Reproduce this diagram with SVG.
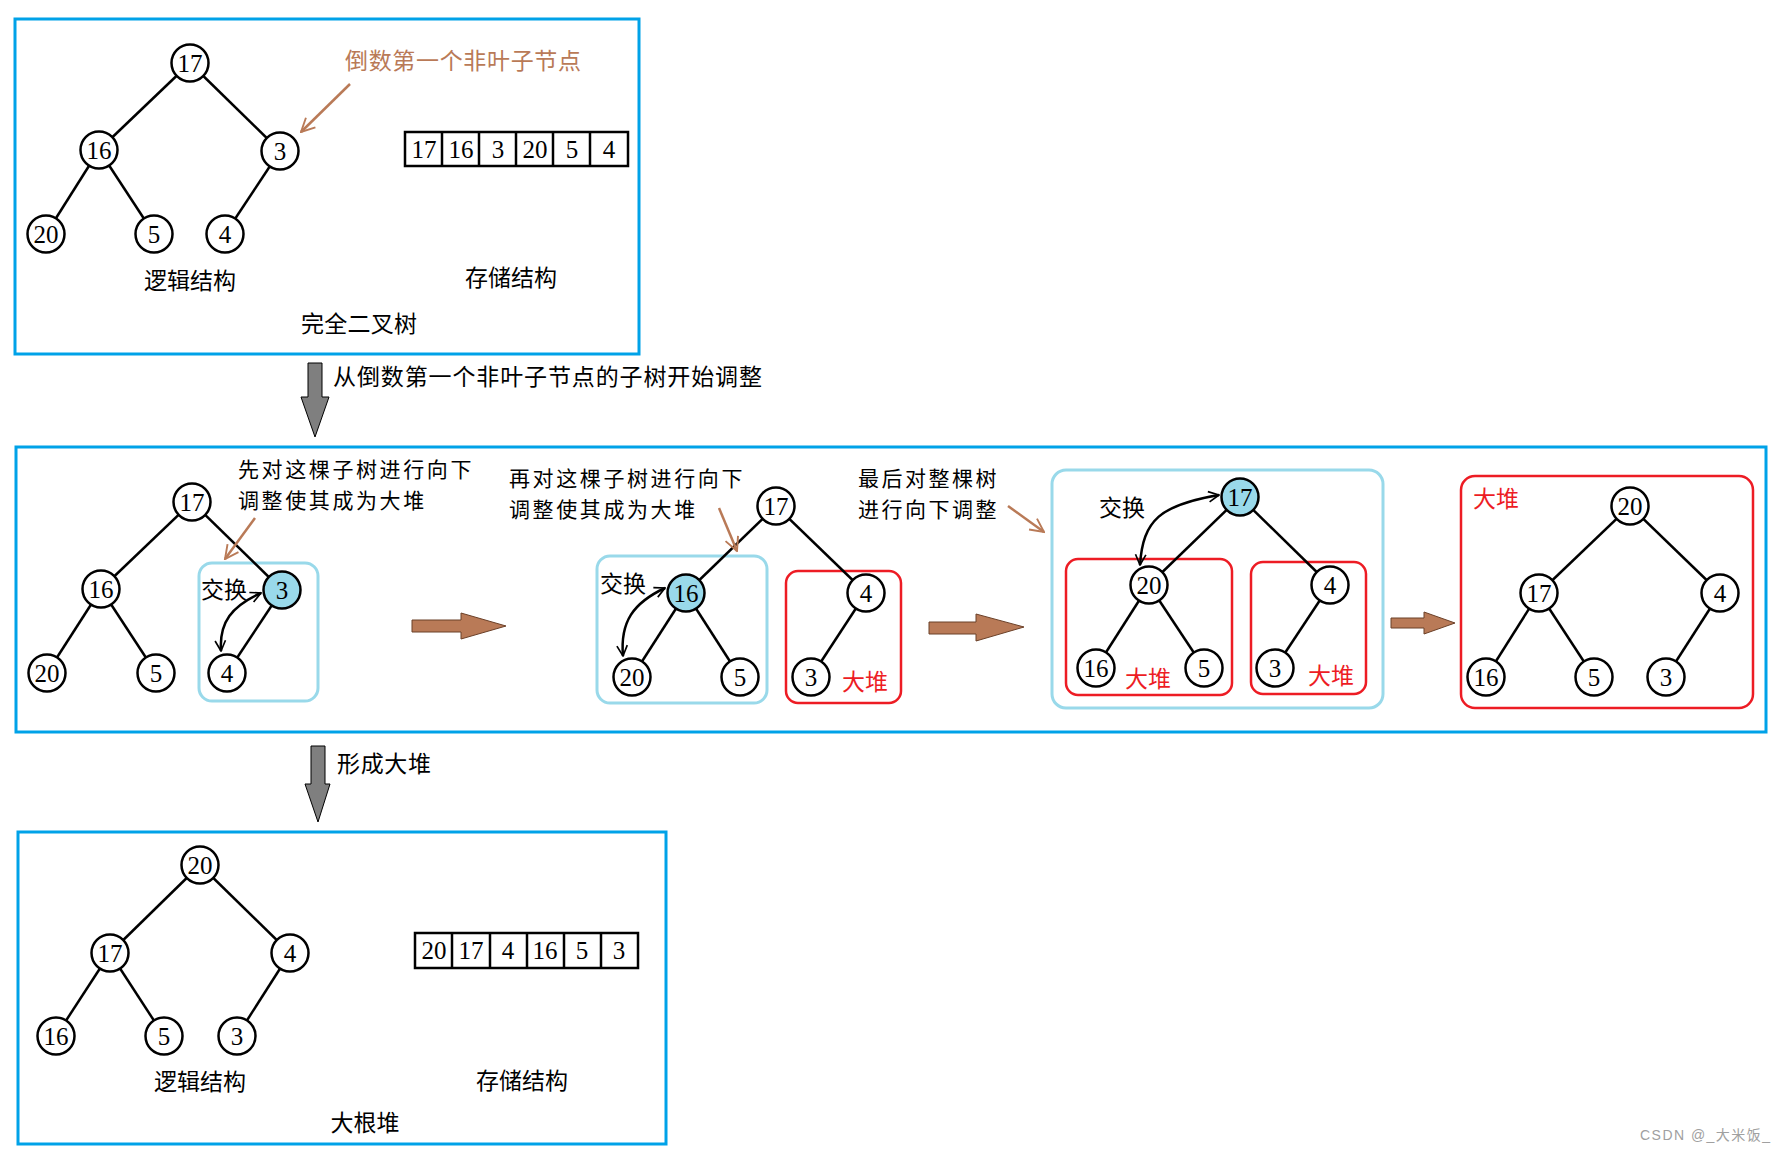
<svg xmlns="http://www.w3.org/2000/svg" width="1786" height="1153" viewBox="0 0 1786 1153">
<defs>
<style>
.frame{fill:none;stroke:#00a2e8;stroke-width:3}
.lb{fill:none;stroke:#99d9ea;stroke-width:3}
.rd{fill:none;stroke:#ed1c24;stroke-width:2.5}
.edge{stroke:#000;stroke-width:2.5;fill:none}
.nd circle{fill:#fff;stroke:#000;stroke-width:2.5}
.nd.hl circle{fill:#99d9ea}
.nd text,.num{font-family:'Liberation Serif',serif;font-size:25px;text-anchor:middle;dominant-baseline:central;fill:#000}
.cn{font-family:'Noto Sans CJK SC',sans-serif;font-size:23px;fill:#000;dominant-baseline:central}
.cn2{font-family:'Noto Sans CJK SC',sans-serif;font-size:21px;fill:#000;dominant-baseline:central}
.mid{text-anchor:middle}
.red{fill:#ed1c24}
.brn{fill:#b97a57}
.cell{fill:#fff;stroke:#000;stroke-width:2.5}
.ann{stroke:#b97a57;stroke-width:2.5;fill:none;marker-end:url(#ah)}
.swap{stroke:#000;stroke-width:2.5;fill:none;marker-start:url(#sh);marker-end:url(#sh)}
.barrow{fill:#b97a57;stroke:#6b4028;stroke-width:1}
.garrow{fill:#7f7f7f;stroke:#000;stroke-width:1}
</style>
<marker id="ah" viewBox="0 0 12 12" refX="11" refY="6" markerWidth="6.5" markerHeight="6.5" orient="auto" markerUnits="strokeWidth">
<path d="M1,1 L11,6 L1,11" fill="none" stroke="#b97a57" stroke-width="1.4"/>
</marker>
<marker id="sh" viewBox="0 0 12 12" refX="11" refY="6" markerWidth="5" markerHeight="5" orient="auto-start-reverse" markerUnits="strokeWidth">
<path d="M1,1 L11,6 L1,11" fill="none" stroke="#000" stroke-width="1.6"/>
</marker>
</defs>
<rect width="1786" height="1153" fill="#fff"/>

<!-- Frames -->
<g id="frames">
<rect class="frame" x="15" y="19" width="624" height="335"/>
<rect class="frame" x="16" y="447" width="1750" height="285"/>
<rect class="frame" x="18" y="832" width="648" height="312"/>
<rect class="lb" x="199" y="563" width="119" height="138" rx="13"/>
<rect class="lb" x="597" y="556" width="170" height="147" rx="13"/>
<rect class="rd" x="786" y="571" width="115" height="132" rx="12"/>
<rect class="lb" x="1052" y="470" width="331" height="238" rx="14"/>
<rect class="rd" x="1066" y="559" width="166" height="136" rx="12"/>
<rect class="rd" x="1251" y="562" width="115" height="132" rx="12"/>
<rect class="rd" x="1461" y="476" width="292" height="232" rx="14"/>
</g>

<!-- Connectors -->
<g id="connectors">
<line class="edge" x1="190" y1="63" x2="99" y2="150"/>
<line class="edge" x1="190" y1="63" x2="280" y2="151"/>
<line class="edge" x1="99" y1="150" x2="46" y2="234"/>
<line class="edge" x1="99" y1="150" x2="154" y2="234"/>
<line class="edge" x1="280" y1="151" x2="225" y2="234"/>

<line class="edge" x1="192" y1="502" x2="101" y2="589"/>
<line class="edge" x1="192" y1="502" x2="282" y2="590"/>
<line class="edge" x1="101" y1="589" x2="47" y2="673"/>
<line class="edge" x1="101" y1="589" x2="156" y2="673"/>
<line class="edge" x1="282" y1="590" x2="227" y2="673"/>

<line class="edge" x1="776" y1="506" x2="686" y2="593"/>
<line class="edge" x1="776" y1="506" x2="866" y2="593"/>
<line class="edge" x1="686" y1="593" x2="632" y2="677"/>
<line class="edge" x1="686" y1="593" x2="740" y2="677"/>
<line class="edge" x1="866" y1="593" x2="811" y2="677"/>

<line class="edge" x1="1240" y1="497" x2="1149" y2="585"/>
<line class="edge" x1="1240" y1="497" x2="1330" y2="585"/>
<line class="edge" x1="1149" y1="585" x2="1096" y2="668"/>
<line class="edge" x1="1149" y1="585" x2="1204" y2="668"/>
<line class="edge" x1="1330" y1="585" x2="1275" y2="668"/>

<line class="edge" x1="1630" y1="506" x2="1539" y2="593"/>
<line class="edge" x1="1630" y1="506" x2="1720" y2="593"/>
<line class="edge" x1="1539" y1="593" x2="1486" y2="677"/>
<line class="edge" x1="1539" y1="593" x2="1594" y2="677"/>
<line class="edge" x1="1720" y1="593" x2="1666" y2="677"/>

<line class="edge" x1="200" y1="865" x2="110" y2="953"/>
<line class="edge" x1="200" y1="865" x2="290" y2="953"/>
<line class="edge" x1="110" y1="953" x2="56" y2="1036"/>
<line class="edge" x1="110" y1="953" x2="164" y2="1036"/>
<line class="edge" x1="290" y1="953" x2="237" y2="1036"/>

<!-- swap arrows -->
<path class="swap" d="M221,651 C219,622 232,606 261,593"/>
<path class="swap" d="M623,656 C620,622 633,603 665,588"/>
<path class="swap" d="M1140,565 C1143,520 1160,505 1219,495"/>

<!-- annotation arrows -->
<line class="ann" x1="350" y1="84" x2="301" y2="132"/>
<line class="ann" x1="255" y1="518" x2="225" y2="559"/>
<line class="ann" x1="719" y1="508" x2="737" y2="551"/>
<line class="ann" x1="1008" y1="506" x2="1044" y2="532"/>

<!-- block arrows -->
<polygon class="barrow" points="412,620 461,620 461,613 506,626 461,639 461,632 412,632"/>
<polygon class="barrow" points="929,622 976,622 976,614 1024,627 976,641 976,634 929,634"/>
<polygon class="barrow" points="1391,618 1424,618 1424,612 1455,623 1424,634 1424,628 1391,628"/>
<polygon class="garrow" points="308,363 322,363 322,397 329,397 315,437 301,397 308,397"/>
<polygon class="garrow" points="311,746 325,746 325,784 330,784 318,822 305,784 311,784"/>
</g>

<!-- Nodes -->
<g id="tree1">
<g class="nd" id="t1n17"><circle cx="190" cy="63" r="18.5"/><text x="190" y="63">17</text></g>
<g class="nd" id="t1n16"><circle cx="99" cy="150" r="18.5"/><text x="99" y="150">16</text></g>
<g class="nd" id="t1n3"><circle cx="280" cy="151" r="18.5"/><text x="280" y="151">3</text></g>
<g class="nd" id="t1n20"><circle cx="46" cy="234" r="18.5"/><text x="46" y="234">20</text></g>
<g class="nd" id="t1n5"><circle cx="154" cy="234" r="18.5"/><text x="154" y="234">5</text></g>
<g class="nd" id="t1n4"><circle cx="225" cy="234" r="18.5"/><text x="225" y="234">4</text></g>
</g>
<g id="array1">
<rect class="cell" x="405" y="132" width="223" height="34"/>
<line class="edge" x1="442" y1="132" x2="442" y2="166"/>
<line class="edge" x1="479" y1="132" x2="479" y2="166"/>
<line class="edge" x1="516" y1="132" x2="516" y2="166"/>
<line class="edge" x1="553" y1="132" x2="553" y2="166"/>
<line class="edge" x1="590" y1="132" x2="590" y2="166"/>
<text class="num" x="424" y="149">17</text>
<text class="num" x="461" y="149">16</text>
<text class="num" x="498" y="149">3</text>
<text class="num" x="535" y="149">20</text>
<text class="num" x="572" y="149">5</text>
<text class="num" x="609" y="149">4</text>
</g>

<g id="tree2">
<g class="nd"><circle cx="192" cy="502" r="18.5"/><text x="192" y="502">17</text></g>
<g class="nd"><circle cx="101" cy="589" r="18.5"/><text x="101" y="589">16</text></g>
<g class="nd hl"><circle cx="282" cy="590" r="18.5"/><text x="282" y="590">3</text></g>
<g class="nd"><circle cx="47" cy="673" r="18.5"/><text x="47" y="673">20</text></g>
<g class="nd"><circle cx="156" cy="673" r="18.5"/><text x="156" y="673">5</text></g>
<g class="nd"><circle cx="227" cy="673" r="18.5"/><text x="227" y="673">4</text></g>
</g>
<g id="tree3">
<g class="nd"><circle cx="776" cy="506" r="18.5"/><text x="776" y="506">17</text></g>
<g class="nd hl"><circle cx="686" cy="593" r="18.5"/><text x="686" y="593">16</text></g>
<g class="nd"><circle cx="866" cy="593" r="18.5"/><text x="866" y="593">4</text></g>
<g class="nd"><circle cx="632" cy="677" r="18.5"/><text x="632" y="677">20</text></g>
<g class="nd"><circle cx="740" cy="677" r="18.5"/><text x="740" y="677">5</text></g>
<g class="nd"><circle cx="811" cy="677" r="18.5"/><text x="811" y="677">3</text></g>
</g>
<g id="tree4">
<g class="nd hl"><circle cx="1240" cy="497" r="18.5"/><text x="1240" y="497">17</text></g>
<g class="nd"><circle cx="1149" cy="585" r="18.5"/><text x="1149" y="585">20</text></g>
<g class="nd"><circle cx="1330" cy="585" r="18.5"/><text x="1330" y="585">4</text></g>
<g class="nd"><circle cx="1096" cy="668" r="18.5"/><text x="1096" y="668">16</text></g>
<g class="nd"><circle cx="1204" cy="668" r="18.5"/><text x="1204" y="668">5</text></g>
<g class="nd"><circle cx="1275" cy="668" r="18.5"/><text x="1275" y="668">3</text></g>
</g>
<g id="tree5">
<g class="nd"><circle cx="1630" cy="506" r="18.5"/><text x="1630" y="506">20</text></g>
<g class="nd"><circle cx="1539" cy="593" r="18.5"/><text x="1539" y="593">17</text></g>
<g class="nd"><circle cx="1720" cy="593" r="18.5"/><text x="1720" y="593">4</text></g>
<g class="nd"><circle cx="1486" cy="677" r="18.5"/><text x="1486" y="677">16</text></g>
<g class="nd"><circle cx="1594" cy="677" r="18.5"/><text x="1594" y="677">5</text></g>
<g class="nd"><circle cx="1666" cy="677" r="18.5"/><text x="1666" y="677">3</text></g>
</g>
<g id="tree6">
<g class="nd"><circle cx="200" cy="865" r="18.5"/><text x="200" y="865">20</text></g>
<g class="nd"><circle cx="110" cy="953" r="18.5"/><text x="110" y="953">17</text></g>
<g class="nd"><circle cx="290" cy="953" r="18.5"/><text x="290" y="953">4</text></g>
<g class="nd"><circle cx="56" cy="1036" r="18.5"/><text x="56" y="1036">16</text></g>
<g class="nd"><circle cx="164" cy="1036" r="18.5"/><text x="164" y="1036">5</text></g>
<g class="nd"><circle cx="237" cy="1036" r="18.5"/><text x="237" y="1036">3</text></g>
</g>
<g id="array2">
<rect class="cell" x="415" y="933" width="223" height="35"/>
<line class="edge" x1="452" y1="933" x2="452" y2="968"/>
<line class="edge" x1="490" y1="933" x2="490" y2="968"/>
<line class="edge" x1="527" y1="933" x2="527" y2="968"/>
<line class="edge" x1="564" y1="933" x2="564" y2="968"/>
<line class="edge" x1="601" y1="933" x2="601" y2="968"/>
<text class="num" x="434" y="950">20</text>
<text class="num" x="471" y="950">17</text>
<text class="num" x="508" y="950">4</text>
<text class="num" x="545" y="950">16</text>
<text class="num" x="582" y="950">5</text>
<text class="num" x="619" y="950">3</text>
</g>

<!-- Labels -->
<g id="labels">
<text class="cn brn" x="345" y="59" textLength="236" lengthAdjust="spacing">倒数第一个非叶子节点</text>
<text class="cn mid" x="190" y="279">逻辑结构</text>
<text class="cn mid" x="511" y="276">存储结构</text>
<text class="cn" x="301" y="322" textLength="116" lengthAdjust="spacing">完全二叉树</text>
<text class="cn" x="333" y="375" textLength="429" lengthAdjust="spacing">从倒数第一个非叶子节点的子树开始调整</text>

<text class="cn2" x="238" y="468" letter-spacing="2.6">先对这棵子树进行向下</text>
<text class="cn2" x="238" y="499" letter-spacing="2.6">调整使其成为大堆</text>
<text class="cn mid" x="224" y="588">交换</text>

<text class="cn2" x="509" y="477" letter-spacing="2.6">再对这棵子树进行向下</text>
<text class="cn2" x="509" y="508" letter-spacing="2.6">调整使其成为大堆</text>
<text class="cn mid" x="623" y="582">交换</text>
<text class="cn mid red" x="865" y="680">大堆</text>

<text class="cn2" x="858" y="477" letter-spacing="2.5">最后对整棵树</text>
<text class="cn2" x="858" y="508" letter-spacing="2.5">进行向下调整</text>
<text class="cn mid" x="1122" y="506">交换</text>
<text class="cn mid red" x="1148" y="677">大堆</text>
<text class="cn mid red" x="1331" y="674">大堆</text>
<text class="cn mid red" x="1496" y="497">大堆</text>

<text class="cn" x="337" y="762" textLength="94" lengthAdjust="spacing">形成大堆</text>
<text class="cn mid" x="200" y="1080">逻辑结构</text>
<text class="cn mid" x="522" y="1079">存储结构</text>
<text class="cn mid" x="365" y="1121">大根堆</text>

<text x="1640" y="1135" font-family="'Liberation Sans','Noto Sans CJK SC',sans-serif" font-size="14" fill="#a0a0a0" dominant-baseline="central" textLength="130" lengthAdjust="spacing">CSDN @_大米饭_</text>
</g>
</svg>
